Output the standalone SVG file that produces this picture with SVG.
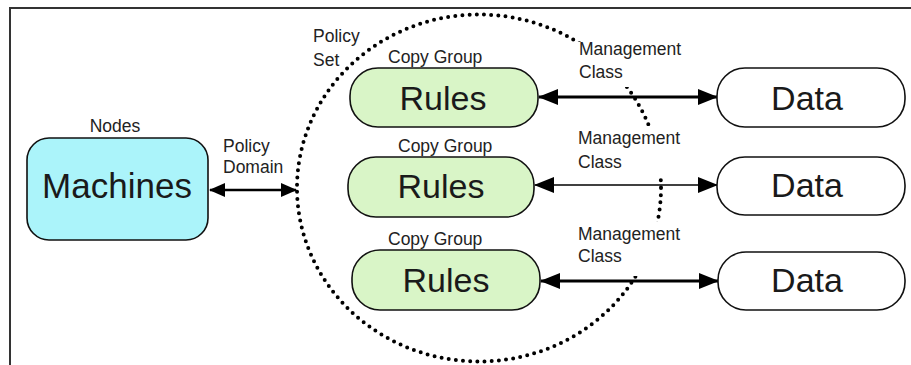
<svg xmlns="http://www.w3.org/2000/svg" width="911" height="365" viewBox="0 0 911 365">
<style>
.lbl{font-family:"Liberation Sans",Arial,sans-serif;font-size:17.5px;fill:#222}
.big{font-family:"Liberation Sans",Arial,sans-serif;font-size:34px;fill:#1a1a1a;text-anchor:middle}
.box{stroke:#111;stroke-width:1.6}
.rules{fill:#d9f5c7}
.data{fill:#ffffff}
.mach{fill:#abf4fa}
.conn{stroke:#000;fill:none}
</style>
<defs>
<marker id="ah" markerUnits="userSpaceOnUse" markerWidth="20" markerHeight="16" viewBox="0 0 20 16" refX="19" refY="8" orient="auto-start-reverse">
<path d="M0,0 L20,8 L0,16 z" fill="#000"/>
</marker>
<marker id="ahs" markerUnits="userSpaceOnUse" markerWidth="16" markerHeight="14" viewBox="0 0 16 14" refX="15" refY="7" orient="auto-start-reverse">
<path d="M0,0 L16,7 L0,14 z" fill="#000"/>
</marker>
<mask id="gap">
<rect x="0" y="0" width="911" height="365" fill="#fff"/>
<rect x="574" y="42" width="116" height="45" fill="#000"/>
<rect x="574" y="126" width="116" height="51" fill="#000"/>
<rect x="574" y="222" width="116" height="54" fill="#000"/>
</mask>
</defs>
<path d="M10,365 L10,8 L911,8" fill="none" stroke="#333" stroke-width="2"/>
<g id="policy-set">
<ellipse cx="479" cy="188" rx="182" ry="173.5" fill="none" stroke="#000" stroke-width="4" stroke-linecap="round" stroke-dasharray="0 7.2" mask="url(#gap)"/>
<text class="lbl" x="313" y="42">Policy</text>
<text class="lbl" x="313" y="66">Set</text>
</g>
<g id="connectors">
<line class="conn" x1="210" y1="190" x2="296" y2="190" stroke-width="2.5" marker-start="url(#ahs)" marker-end="url(#ahs)"/>
<line class="conn" x1="539" y1="97" x2="717" y2="97" stroke-width="3" marker-start="url(#ah)" marker-end="url(#ah)"/>
<line class="conn" x1="535" y1="185" x2="717" y2="185" stroke-width="1.6" marker-start="url(#ah)" marker-end="url(#ah)"/>
<line class="conn" x1="541" y1="281" x2="718" y2="281" stroke-width="3" marker-start="url(#ah)" marker-end="url(#ah)"/>
<text class="lbl" x="223" y="152">Policy</text>
<text class="lbl" x="223" y="173">Domain</text>
<text class="lbl" x="579" y="55">Management</text>
<text class="lbl" x="579" y="78">Class</text>
<text class="lbl" x="578" y="144">Management</text>
<text class="lbl" x="578" y="168">Class</text>
<text class="lbl" x="578" y="240">Management</text>
<text class="lbl" x="578" y="262">Class</text>
</g>
<g id="machines">
<rect class="box mach" x="27" y="138" width="181" height="102" rx="22" ry="22"/>
<text class="big" x="117" y="198" style="font-size:35px">Machines</text>
<text class="lbl" x="115" y="132" text-anchor="middle">Nodes</text>
</g>
<g id="rules1">
<rect class="box rules" x="350" y="68" width="188" height="59" rx="28" ry="28"/>
<text class="big" x="443" y="110">Rules</text>
<text class="lbl" x="388" y="63">Copy Group</text>
</g>
<g id="rules2">
<rect class="box rules" x="348" y="157" width="186" height="60" rx="28" ry="28"/>
<text class="big" x="441" y="198">Rules</text>
<text class="lbl" x="398" y="152">Copy Group</text>
</g>
<g id="rules3">
<rect class="box rules" x="352" y="250" width="188" height="60" rx="28" ry="28"/>
<text class="big" x="446" y="292">Rules</text>
<text class="lbl" x="388" y="245">Copy Group</text>
</g>
<g id="data1">
<rect class="box data" x="717" y="68" width="188" height="59" rx="28" ry="28"/>
<text class="big" x="807" y="110">Data</text>
</g>
<g id="data2">
<rect class="box data" x="717" y="157" width="188" height="58" rx="28" ry="28"/>
<text class="big" x="807" y="197">Data</text>
</g>
<g id="data3">
<rect class="box data" x="718" y="252" width="187" height="58" rx="28" ry="28"/>
<text class="big" x="807" y="292">Data</text>
</g>
</svg>
